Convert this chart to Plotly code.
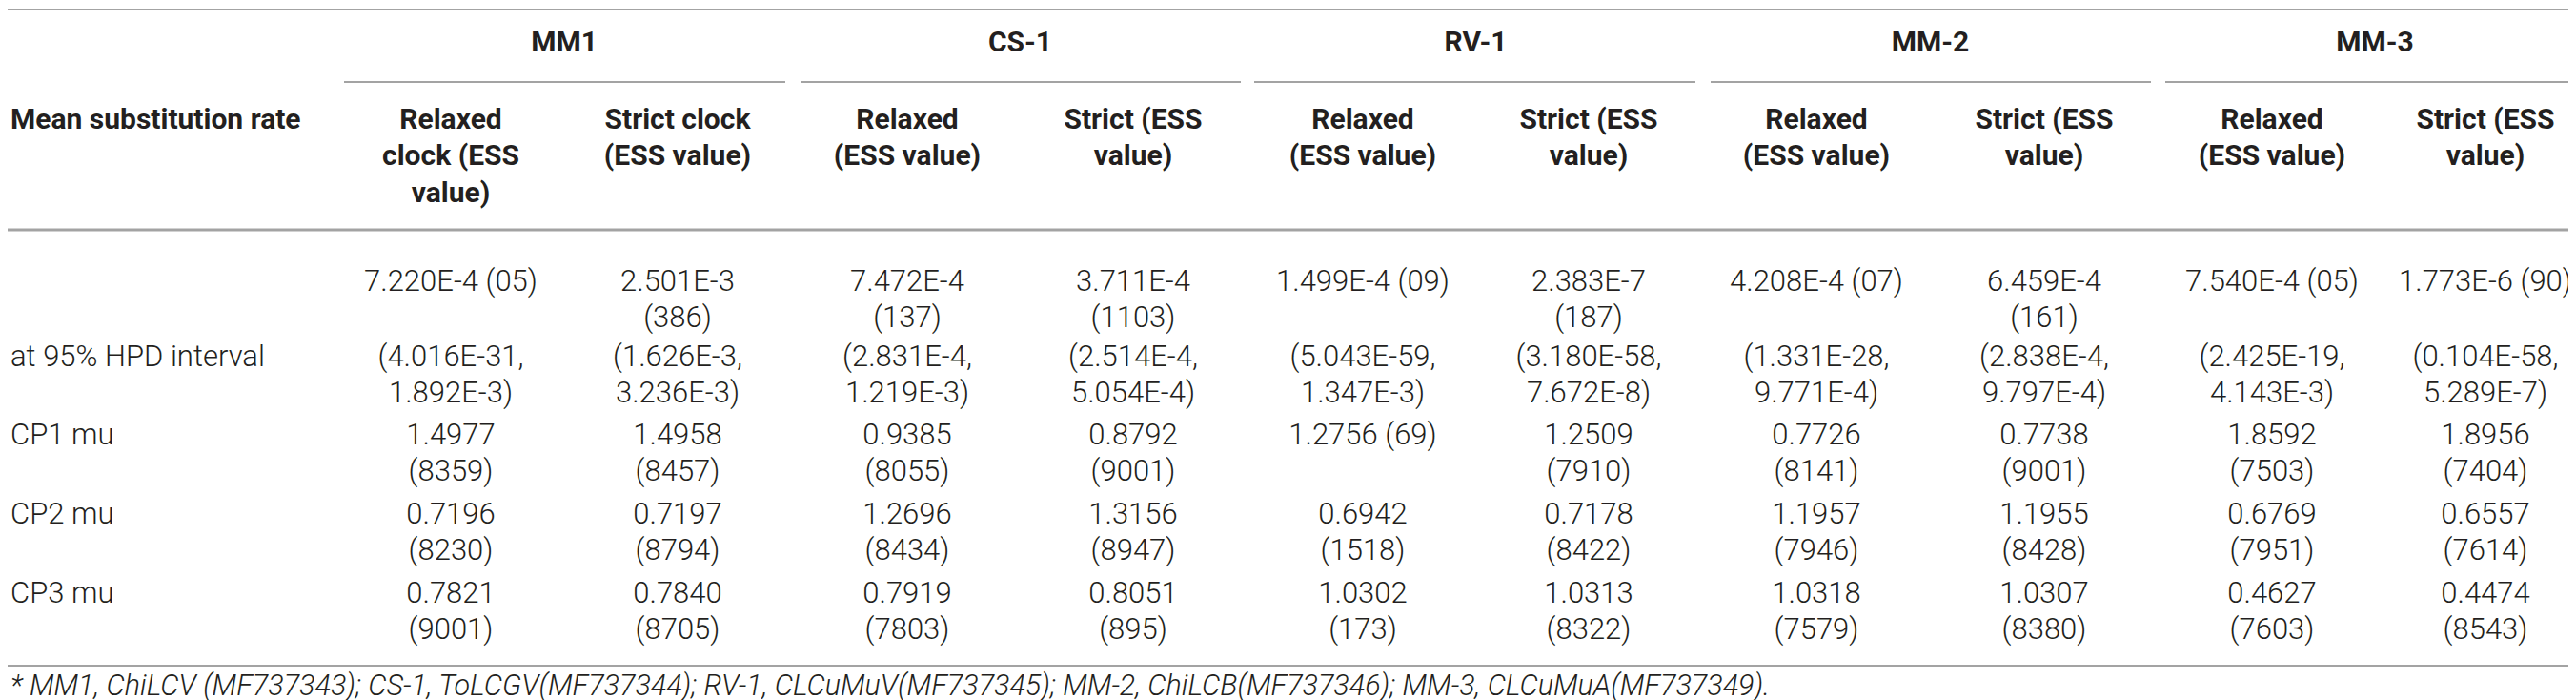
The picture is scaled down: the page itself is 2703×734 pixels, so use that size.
import plotly.graph_objects as go

# table content
groups = ["MM1", "CS-1", "RV-1", "MM-2", "MM-3"]
sub_headers = ["Relaxed\nclock (ESS\nvalue)", "Strict clock\n(ESS value)",
               "Relaxed\n(ESS value)", "Strict (ESS\nvalue)",
               "Relaxed\n(ESS value)", "Strict (ESS\nvalue)",
               "Relaxed\n(ESS value)", "Strict (ESS\nvalue)",
               "Relaxed\n(ESS value)", "Strict (ESS\nvalue)"]
corner_label = "Mean substitution rate"
row_labels = ["", "at 95% HPD interval", "CP1 mu", "CP2 mu", "CP3 mu"]

mean_rate = ["7.220E-4 (05)", "2.501E-3\n(386)", "7.472E-4\n(137)", "3.711E-4\n(1103)",
             "1.499E-4 (09)", "2.383E-7\n(187)", "4.208E-4 (07)", "6.459E-4\n(161)",
             "7.540E-4 (05)", "1.773E-6 (90)"]
hpd_interval = ["(4.016E-31,\n1.892E-3)", "(1.626E-3,\n3.236E-3)", "(2.831E-4,\n1.219E-3)",
                "(2.514E-4,\n5.054E-4)", "(5.043E-59,\n1.347E-3)", "(3.180E-58,\n7.672E-8)",
                "(1.331E-28,\n9.771E-4)", "(2.838E-4,\n9.797E-4)", "(2.425E-19,\n4.143E-3)",
                "(0.104E-58,\n5.289E-7)"]
cp1_mu = ["1.4977\n(8359)", "1.4958\n(8457)", "0.9385\n(8055)", "0.8792\n(9001)",
          "1.2756 (69)", "1.2509\n(7910)", "0.7726\n(8141)", "0.7738\n(9001)",
          "1.8592\n(7503)", "1.8956\n(7404)"]
cp2_mu = ["0.7196\n(8230)", "0.7197\n(8794)", "1.2696\n(8434)", "1.3156\n(8947)",
          "0.6942\n(1518)", "0.7178\n(8422)", "1.1957\n(7946)", "1.1955\n(8428)",
          "0.6769\n(7951)", "0.6557\n(7614)"]
cp3_mu = ["0.7821\n(9001)", "0.7840\n(8705)", "0.7919\n(7803)", "0.8051\n(895)",
          "1.0302\n(173)", "1.0313\n(8322)", "1.0318\n(7579)", "1.0307\n(8380)",
          "0.4627\n(7603)", "0.4474\n(8543)"]
rows = [mean_rate, hpd_interval, cp1_mu, cp2_mu, cp3_mu]

footnote = ("* MM1, ChiLCV (MF737343); CS-1, ToLCGV(MF737344); RV-1, CLCuMuV(MF737345); "
            "MM-2, ChiLCB(MF737346); MM-3, CLCuMuA(MF737349).")

# layout (pixel space, y grows downward)
W, H = 2703, 734
col_x = [465, 703, 944, 1181, 1422, 1659, 1898, 2137, 2376, 2600]
row_top = [289, 368, 450, 533, 616]
line_gap = 38.5
head_top = 119
group_y = 38
left_x = 3

TEXT = "#231f20"
RULE = "#a3a3a3"
FONT = "Roboto"
BODY = 31
HEAD = 30


def expand(cells, xs, y0):
    px, py, pt = [], [], []
    for cell, x in zip(cells, xs):
        for k, line in enumerate(cell.split("\n")):
            px.append(x)
            py.append(y0 + k * line_gap)
            pt.append(line)
    return px, py, pt


fig = go.Figure()

# bold header texts
hx, hy, ht = expand(sub_headers, col_x, head_top)
gx = [(col_x[2 * i] + col_x[2 * i + 1]) / 2 for i in range(len(groups))]
gx[-1] = 2484
hx += gx
hy += [group_y] * len(groups)
ht += groups
fig.add_trace(go.Scatter(x=hx, y=hy, text=ht, mode="text", textposition="middle center",
                         textfont=dict(family=FONT, size=HEAD, color=TEXT, weight="bold"),
                         hoverinfo="skip", showlegend=False))
fig.add_trace(go.Scatter(x=[left_x], y=[head_top], text=[corner_label], mode="text",
                         textposition="middle right",
                         textfont=dict(family=FONT, size=HEAD, color=TEXT, weight="bold"),
                         hoverinfo="skip", showlegend=False))

# body values
bx, by, bt = [], [], []
for cells, y0 in zip(rows, row_top):
    px, py, pt = expand(cells, col_x, y0)
    bx += px
    by += py
    bt += pt
fig.add_trace(go.Scatter(x=bx, y=by, text=bt, mode="text", textposition="middle center",
                         textfont=dict(family=FONT, size=BODY, color=TEXT, weight=300),
                         hoverinfo="skip", showlegend=False))

# row labels
fig.add_trace(go.Scatter(x=[left_x] * len(row_labels), y=row_top, text=row_labels,
                         mode="text", textposition="middle right",
                         textfont=dict(family=FONT, size=BODY, color=TEXT, weight=300),
                         hoverinfo="skip", showlegend=False))

# footnote
fig.add_trace(go.Scatter(x=[left_x], y=[713], text=[footnote], mode="text",
                         textposition="middle right",
                         textfont=dict(family=FONT, size=30.5, color=TEXT, weight=300,
                                       style="italic"),
                         hoverinfo="skip", showlegend=False))

# rules
shapes = [
    dict(type="line", x0=0, x1=W, y0=2, y1=2, line=dict(color=RULE, width=2)),
    dict(type="line", x0=0, x1=W, y0=233, y1=233, line=dict(color=RULE, width=3)),
    dict(type="line", x0=0, x1=W, y0=690, y1=690, line=dict(color=RULE, width=2)),
]
group_edges = [(353, 816), (832, 1294), (1308, 1771), (1787, 2249), (2264, W)]
for x0, x1 in group_edges:
    shapes.append(dict(type="line", x0=x0, x1=x1, y0=78, y1=78,
                       line=dict(color=RULE, width=2)))
for s in shapes:
    s.update(xref="x", yref="y", layer="below")

fig.update_layout(
    width=W, height=H,
    margin=dict(l=0, r=0, t=0, b=0),
    paper_bgcolor="white", plot_bgcolor="white",
    xaxis=dict(range=[0, W], visible=False, fixedrange=True),
    yaxis=dict(range=[H, 0], visible=False, fixedrange=True),
    shapes=shapes,
)

fig.write_html("out.html")
